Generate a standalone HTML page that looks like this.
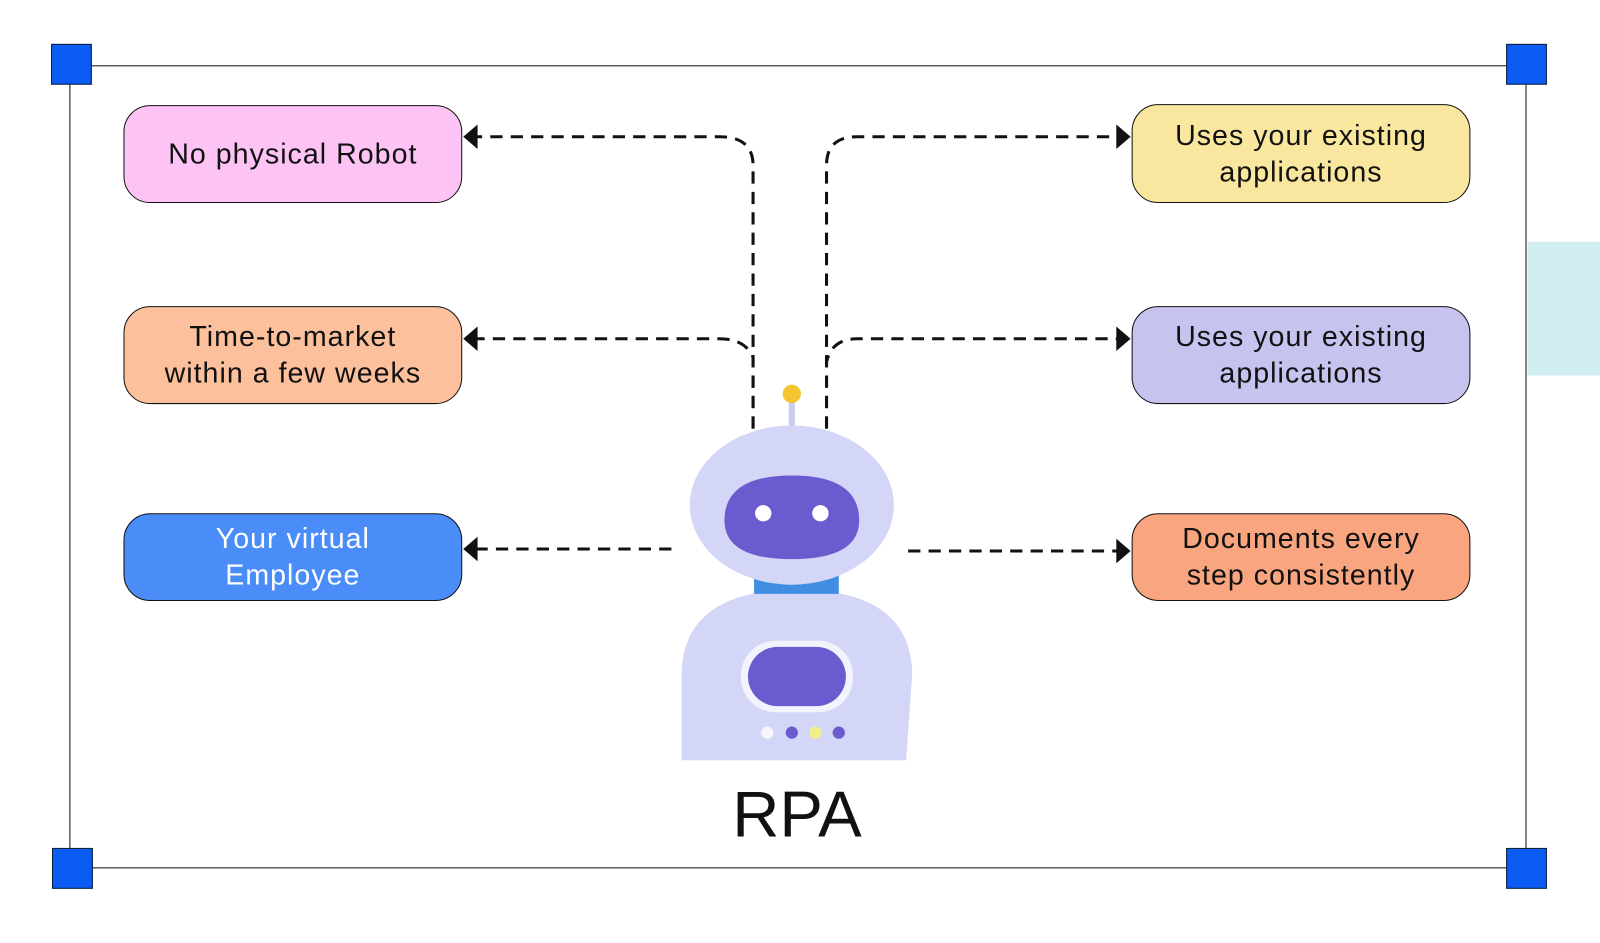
<!DOCTYPE html>
<html><head><meta charset="utf-8"><style>
html,body{margin:0;padding:0;background:#fff;}
body{width:1600px;height:943px;position:relative;overflow:hidden;font-family:"Liberation Sans","DejaVu Sans",sans-serif;}
#w{position:absolute;left:0;top:0;width:1568px;height:924px;transform:scale(1.0204);transform-origin:0 0;}
.box{position:absolute;border:1.5px solid #111;border-radius:26px;display:flex;align-items:center;justify-content:center;text-align:center;font-size:28px;line-height:36px;letter-spacing:1px;color:#111;box-sizing:border-box;}
.sq{position:absolute;width:40px;height:40px;background:#0a5cf5;border:1.5px solid #123;box-sizing:border-box;}
</style></head><body><div id="w">
<div style="position:absolute;left:1497px;top:237px;width:71px;height:131px;background:#d0eef2"></div>
<div style="position:absolute;left:68px;top:64px;width:1428px;height:787px;border:1.5px solid #111;box-sizing:border-box"></div>
<div class="sq" style="left:50px;top:43px"></div>
<div class="sq" style="left:1476px;top:43px"></div>
<div class="sq" style="left:51px;top:831px"></div>
<div class="sq" style="left:1476px;top:831px"></div>

<div class="box" style="left:121px;top:103px;width:332px;height:96px;background:#fdc3f5">No physical Robot</div>
<div class="box" style="left:121px;top:300px;width:332px;height:96px;background:#fcc09c">Time-to-market<br>within a few weeks</div>
<div class="box" style="left:121px;top:503px;width:332px;height:86px;background:#4a8cf8;color:#fff">Your virtual<br>Employee</div>
<div class="box" style="left:1109px;top:102px;width:332px;height:97px;background:#fae79f">Uses your existing<br>applications</div>
<div class="box" style="left:1109px;top:300px;width:332px;height:96px;background:#c7c3ef">Uses your existing<br>applications</div>
<div class="box" style="left:1109px;top:503px;width:332px;height:86px;background:#f9a57f">Documents every<br>step consistently</div>

<svg width="1568" height="924" style="position:absolute;left:0;top:0">
<g fill="none" stroke="#111" stroke-width="3" stroke-dasharray="12,8">
<path d="M738 420 V162 Q738 134 705 134 H466"/>
<path d="M738 420 V350 Q730 332 705 332 H466"/>
<path d="M810 420 V162 Q810 134 840 134 H1096"/>
<path d="M810 420 V355 Q815 332 840 332 H1096"/>
<path d="M658 538 H466"/>
<path d="M890 540 H1096"/>
</g>
<g fill="#111">
<polygon points="454,134 468,122 468,146"/>
<polygon points="454,332 468,320 468,344"/>
<polygon points="454,538 468,526 468,550"/>
<polygon points="1108,134 1094,122 1094,146"/>
<polygon points="1108,332 1094,320 1094,344"/>
<polygon points="1108,540 1094,528 1094,552"/>
</g>
<rect x="773" y="390" width="6" height="32" fill="#c9ccf0"/>
<circle cx="776" cy="386" r="9" fill="#f5c431"/>
<path d="M668 745 L668 660 Q670 578 781 578 Q892 578 894 660 L888 745 Z" fill="#d3d6f7"/>
<rect x="739" y="560" width="83" height="22" fill="#3f8ee0"/>
<ellipse cx="776" cy="495" rx="100" ry="78" fill="#d3d6f7"/>
<path d="M710 510 Q710 466 776 466 Q842 466 842 510 Q842 548 776 548 Q710 548 710 510Z" fill="#6a5ccf"/>
<circle cx="748" cy="503" r="8" fill="#fff"/>
<circle cx="804" cy="503" r="8" fill="#fff"/>
<rect x="726" y="628" width="110" height="70" rx="34" fill="#f3f3fd"/>
<rect x="733" y="634" width="96" height="58" rx="29" fill="#6a5ccf"/>
<circle cx="752" cy="718" r="6" fill="#f7f7fb"/>
<circle cx="776" cy="718" r="6" fill="#6a5ccf"/>
<circle cx="799" cy="718" r="6" fill="#f2ef8a"/>
<circle cx="822" cy="718" r="6" fill="#6a5ccf"/>
<text x="781" y="820" text-anchor="middle" font-family="Liberation Sans,sans-serif" font-size="64" fill="#111">RPA</text>
</svg>
</div></body></html>
